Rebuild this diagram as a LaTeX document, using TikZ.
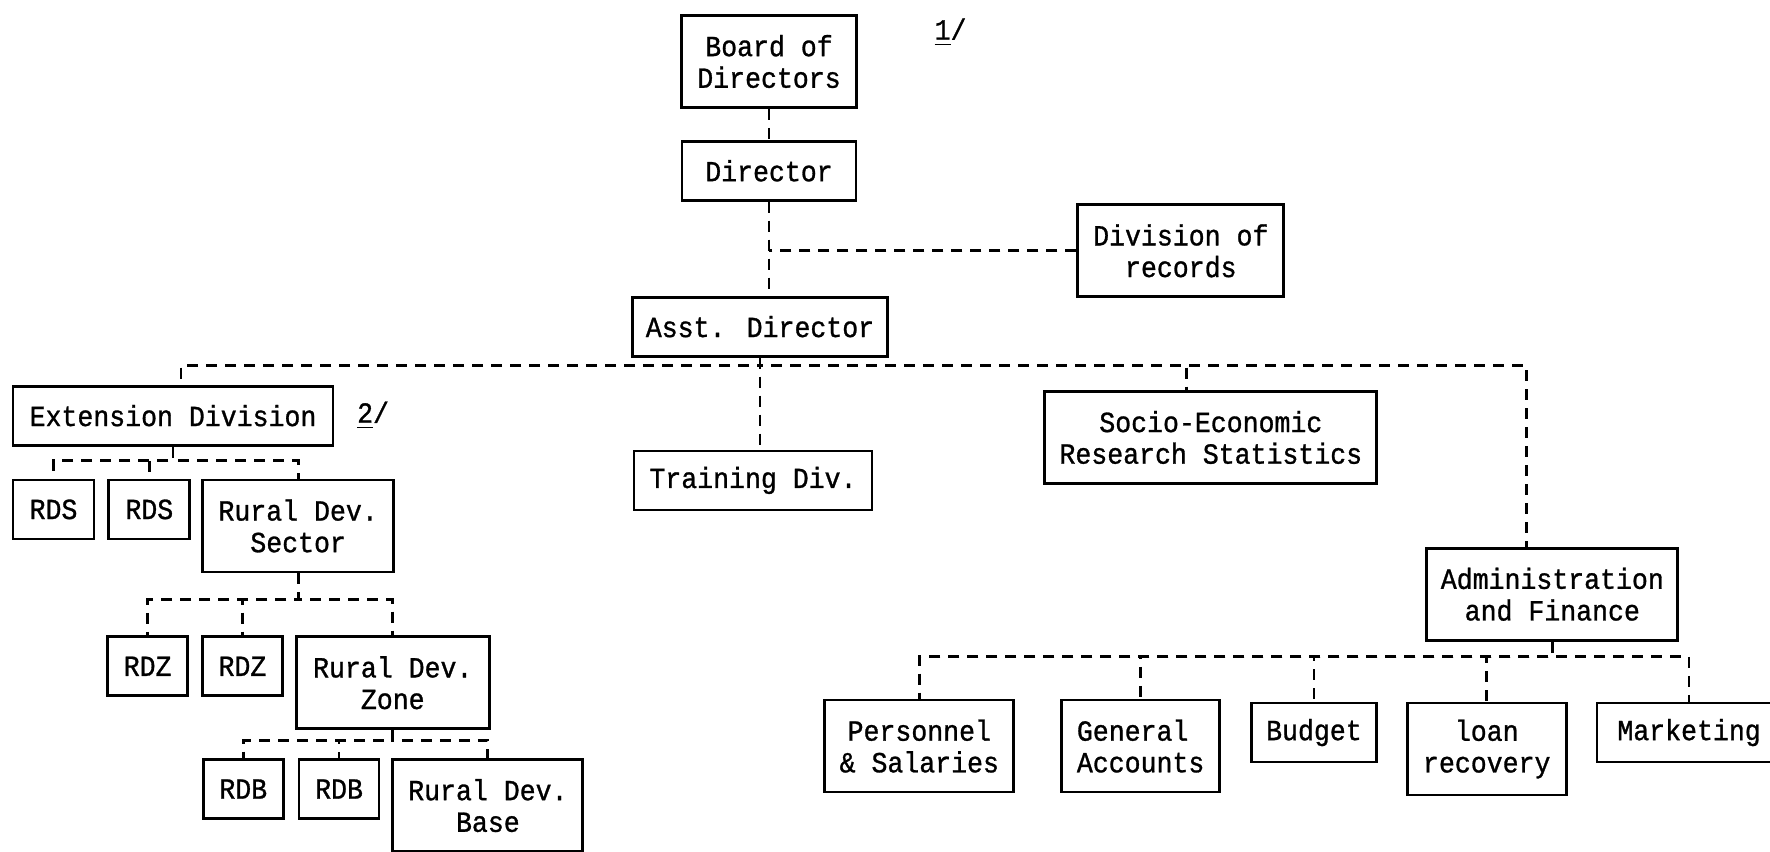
\documentclass[tikz,border=0pt]{standalone}
\usepackage{fontspec}
\newfontfamily\typefont[FakeStretch=0.91,FakeBold=1.0]{Liberation Mono}
\newcommand{\chartfont}{\typefont\fontsize{8.3}{9}\selectfont}
\usetikzlibrary{positioning}

\begin{document}
\begin{tikzpicture}[
  box/.style={draw, line width=0.8pt, font=\chartfont, align=center, inner xsep=1.3mm, inner ysep=0pt, minimum height=5.9mm},
  tall/.style={box, minimum height=9.2mm},
  unit/.style={box, minimum width=8mm},
  link/.style={line width=0.8pt, dash pattern=on 1.1mm off 0.8mm},
  footmark/.style={font=\chartfont, inner sep=0pt}
]
\useasboundingbox (0,0) rectangle (17.7,-8.51);

% top of the chart
\node[tall, minimum width=17.5mm] (board) at (7.69,-0.615) {Board of\\Directors};
\node[box, minimum width=17.4mm, below=3.1mm of board] (dir) {Director};
\node[box, minimum width=25.2mm, below=9.4mm of dir, xshift=-0.9mm] (asst) {Asst. Director};
\node[tall, minimum width=20.6mm, right=21.9mm of dir, yshift=-8mm] (rec) {Division of\\records};
\node[footmark, right=7.6mm of board, yshift=2.9mm] (note1) {\underline{1}/};

% divisions
\node[box, minimum width=32mm, left=29.7mm of asst, yshift=-8.9mm] (ext) {Extension Division};
\node[box, minimum width=23.8mm, below=9.2mm of asst, xshift=-0.7mm] (train) {Training Div.};
\node[tall, minimum width=33.2mm, right=17mm of train, yshift=4.3mm] (socio) {Socio-Economic\\Research Statistics};
\node[tall, minimum width=25.1mm, below=6.2mm of socio, xshift=34.15mm] (admin) {Administration\\and Finance};
\node[footmark, right=2.2mm of ext] (note2) {\underline{2}/};

% extension branch
\node[unit, minimum width=8.1mm, below=3.2mm of ext.south west, anchor=north west] (rds1) {RDS};
\node[unit, minimum width=8.1mm, right=1.2mm of rds1] (rds2) {RDS};
\node[tall, minimum width=19.1mm, right=1mm of rds2.north east, anchor=north west] (sector) {Rural Dev.\\Sector};
\node[unit, below=6.2mm of sector.south west, anchor=north west, xshift=-9.5mm] (rdz1) {RDZ};
\node[unit, right=1.2mm of rdz1] (rdz2) {RDZ};
\node[tall, minimum width=19.3mm, right=1.1mm of rdz2.north east, anchor=north west] (zone) {Rural Dev.\\Zone};
\node[unit, below=2.8mm of zone.south west, anchor=north west, xshift=-9.3mm] (rdb1) {RDB};
\node[unit, right=1.3mm of rdb1] (rdb2) {RDB};
\node[tall, minimum width=19mm, right=1.1mm of rdb2.north east, anchor=north west] (base) {Rural Dev.\\Base};

% administration branch
\node[tall, minimum width=18.9mm, below=5.7mm of admin.south west, anchor=north west, xshift=-60.2mm] (pers) {Personnel\\\& Salaries};
\node[tall, minimum width=15.8mm, align=left, right=4.5mm of pers.north east, anchor=north west] (genacc) {General\\Accounts};
\node[box, minimum width=12.5mm, right=2.9mm of genacc.north east, anchor=north west, yshift=-0.3mm] (budget) {Budget};
\node[tall, minimum width=15.9mm, right=2.8mm of budget.north east, anchor=north west] (loan) {loan\\recovery};
\node[box, minimum width=18.4mm, right=2.8mm of loan.north east, anchor=north west] (market) {Marketing};

% links
\draw[link] (board) -- (dir);
\draw[link] (dir.south) -- (dir.south |- asst.north);
\draw[link] (rec.west) -- (rec.west -| dir.south);
\draw[link] (asst.south) -- (asst.south |- train.north);
\foreach \n/\dx in {ext/0.8mm, socio/-2.4mm, admin/-2.6mm}
  \draw[link] (asst.south) -- ++(0,-0.8mm) -| ([xshift=\dx]\n.north);
\foreach \n in {rds1, rds2, sector}
  \draw[link] (ext.south) -- ++(0,-1.4mm) -| (\n.north);
\foreach \n in {rdz1, rdz2, zone}
  \draw[link] (sector.south) -- ++(0,-2.6mm) -| (\n.north);
\foreach \n in {rdb1, rdb2, base}
  \draw[link] (zone.south) -- ++(0,-1mm) -| (\n.north);
\foreach \n in {pers, genacc, budget, loan, market}
  \draw[link] (admin.south) -- ++(0,-1.5mm) -| (\n.north);
\end{tikzpicture}
\end{document}
